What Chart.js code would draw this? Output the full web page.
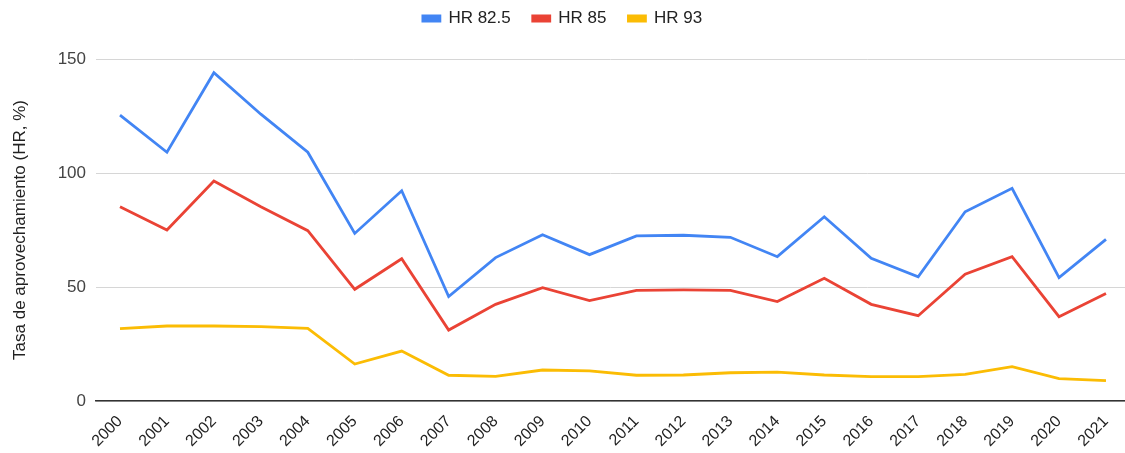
<!DOCTYPE html>
<html>
<head>
<meta charset="utf-8">
<script src="https://cdn.jsdelivr.net/npm/chart.js@4"></script>
<style>
  html, body { margin: 0; padding: 0; background: #fff; }
  #wrap { width: 1125px; height: 453px; }
</style>
</head>
<body>
<div id="wrap"><canvas id="hrChart" width="1125" height="453"></canvas></div>
<script>
const years = ['2000','2001','2002','2003','2004','2005','2006','2007','2008','2009','2010',
    '2011','2012','2013','2014','2015','2016','2017','2018','2019','2020','2021'];
const hr825 = [125.4, 109.1, 144.0, 125.8, 109.1, 73.5, 92.2, 45.8, 62.9, 72.9, 64.2,
    72.4, 72.7, 71.8, 63.3, 80.8, 62.6, 54.5, 83.0, 93.3, 54.1, 70.9];
const hr85 = [85.2, 75.0, 96.5, 85.2, 74.7, 49.0, 62.4, 31.1, 42.4, 49.7, 44.0,
    48.5, 48.7, 48.5, 43.6, 53.8, 42.4, 37.4, 55.6, 63.3, 37.0, 47.2];
const hr93 = [31.7, 32.9, 32.9, 32.6, 31.9, 16.2, 21.9, 11.3, 10.8, 13.6, 13.2,
    11.3, 11.4, 12.4, 12.7, 11.4, 10.7, 10.7, 11.7, 15.1, 9.8, 8.9];
const yTicks = [0, 50, 100, 150];

const ctx = document.getElementById('hrChart').getContext('2d');
const fontFamily = '"Liberation Sans", Arial, sans-serif';
const yearNums = years.map(Number);

function series(label, data, color) {
    return {
        label: label,
        data: data.map((v, i) => ({ x: yearNums[i], y: v })),
        borderColor: color,
        backgroundColor: color,
        borderWidth: 2.8,
        pointRadius: 0,
        tension: 0,
        fill: false
    };
}

// push the plot area down below the legend
const legendSpacer = {
    id: 'legendSpacer',
    afterInit(chart) {
        const fit = chart.legend.fit;
        chart.legend.fit = function () {
            fit.call(this);
            this.height += 22;
        };
    }
};

new Chart(ctx, {
    type: 'line',
    data: {
        datasets: [
            series('HR 82.5', hr825, '#4285F4'),
            series('HR 85', hr85, '#EA4335'),
            series('HR 93', hr93, '#FBBC04')
        ]
    },
    plugins: [legendSpacer],
    options: {
        responsive: false,
        animation: false,
        layout: { padding: { top: -12, right: 0, left: 0, bottom: 0 } },
        plugins: {
            legend: {
                position: 'top',
                labels: {
                    font: { family: fontFamily, size: 17 },
                    color: '#222',
                    boxWidth: 17,
                    boxHeight: 5,
                    padding: 22
                }
            },
            tooltip: { enabled: false }
        },
        scales: {
            x: {
                type: 'linear',
                min: 1999.489,
                max: 2021.405,
                afterBuildTicks: (scale) => {
                    scale.ticks = yearNums.map(v => ({ value: v }));
                },
                grid: { display: false },
                border: { color: '#333', width: 1.5 },
                ticks: {
                    font: { family: fontFamily, size: 16 },
                    color: '#222',
                    maxRotation: 45,
                    minRotation: 45,
                    autoSkip: false,
                    callback: (v) => String(v)
                },
                afterFit: (scale) => { scale.height = 52; }
            },
            y: {
                min: 0,
                max: 150,
                afterBuildTicks: (scale) => {
                    scale.ticks = yTicks.map(v => ({ value: v }));
                },
                grid: { color: '#d6d6d6', drawTicks: false },
                border: { display: false },
                ticks: {
                    font: { family: fontFamily, size: 17 },
                    color: '#444',
                    padding: 10
                },
                title: {
                    display: true,
                    text: 'Tasa de aprovechamiento (HR, %)',
                    font: { family: fontFamily, size: 17 },
                    color: '#222',
                    padding: { top: 10, bottom: 4 }
                },
                afterFit: (scale) => { scale.width = 96; }
            }
        }
    }
});
</script>
</body>
</html>
